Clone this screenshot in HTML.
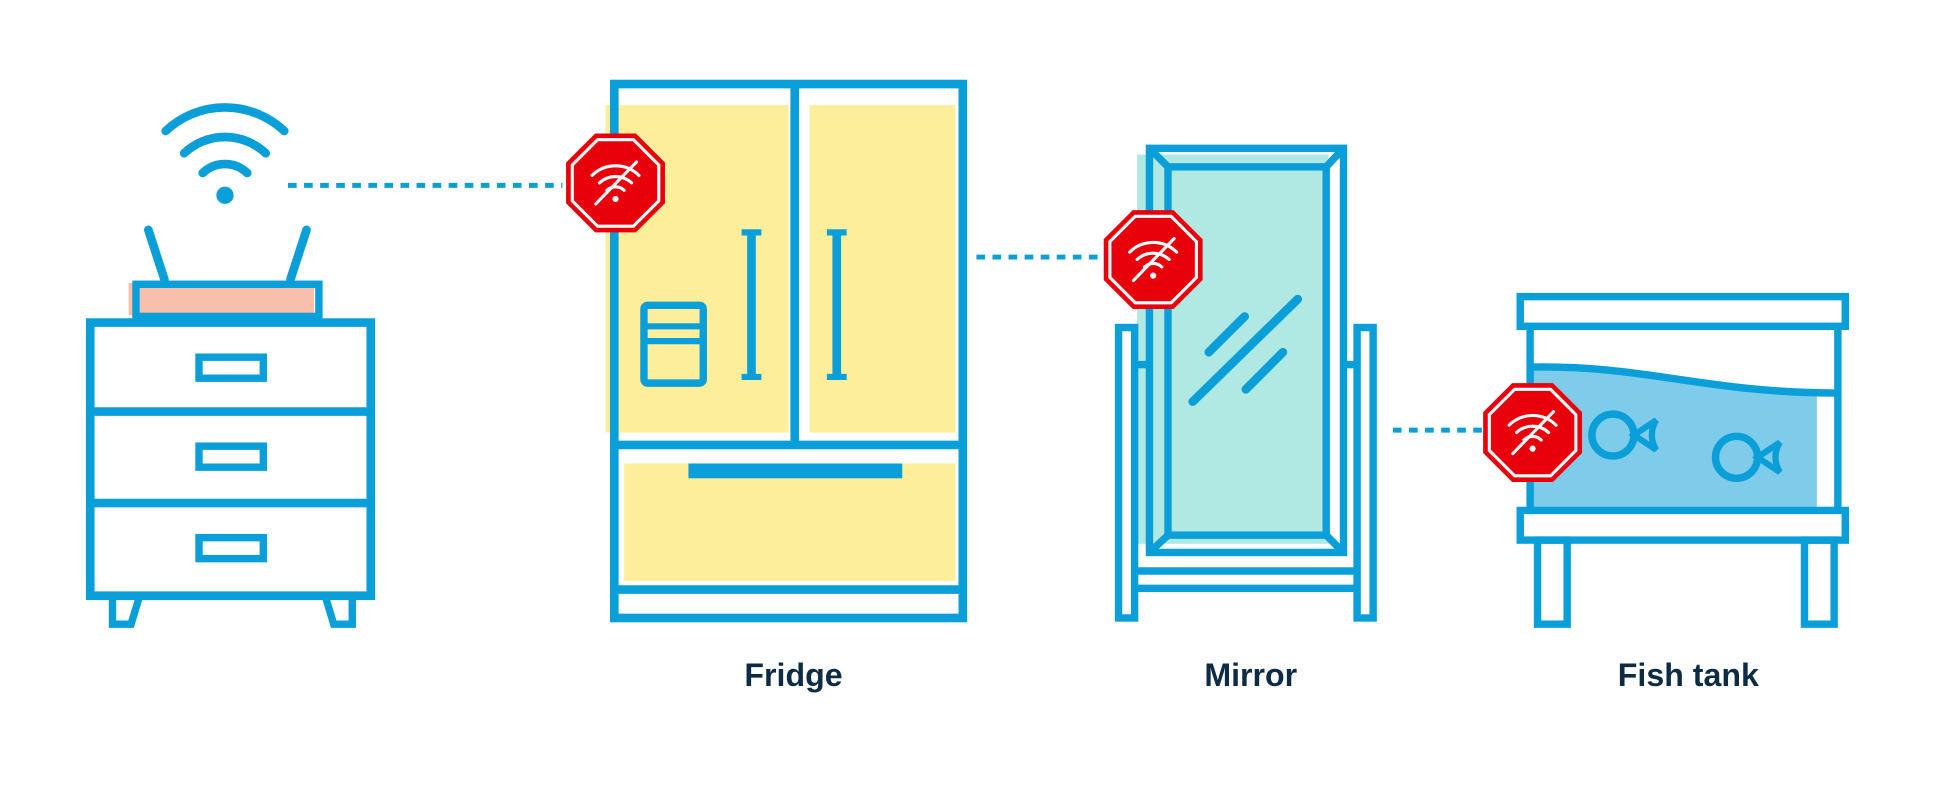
<!DOCTYPE html>
<html><head><meta charset="utf-8"><style>
html,body{margin:0;padding:0;background:#fff;}
svg{display:block}
text{font-family:"Liberation Sans",sans-serif;font-weight:bold;fill:#0d2b45;font-size:26px;text-anchor:middle}
</style></head><body>
<svg width="1938" height="791" viewBox="0 0 1568 640" xmlns="http://www.w3.org/2000/svg">
<defs>
<g id="stop">
<polygon points="-16.5,-40 16.5,-40 40,-16.5 40,16.5 16.5,40 -16.5,40 -40,16.5 -40,-16.5" fill="#e8000b"/>
<polygon points="-14.5,-35 14.5,-35 35,-14.5 35,14.5 14.5,35 -14.5,35 -35,14.5 -35,-14.5" fill="none" stroke="#fff" stroke-width="2.5"/>
<g fill="none" stroke="#fff" stroke-width="2.5" stroke-linecap="round">
<path d="M-19,-6 A27,27 0 0 1 19,-6"/>
<path d="M-13,0 A19,19 0 0 1 13,0"/>
<path d="M-7,6 A10,10 0 0 1 7,6"/>
<line x1="-16" y1="17" x2="17" y2="-17"/>
</g>
<circle cx="0" cy="13" r="2.5" fill="#fff"/>
</g>
</defs>
<g fill="none" stroke="#0a9fd8" stroke-width="7">
<!-- wifi -->
<path d="M134,106 A70,70 0 0 1 230,106" stroke-linecap="round"/>
<path d="M149,124 A48,48 0 0 1 215,124" stroke-linecap="round"/>
<path d="M164,140 A26,26 0 0 1 200,140" stroke-linecap="round"/>
</g>
<circle cx="182" cy="158" r="7" fill="#0a9fd8"/>
<g stroke="#0a9fd8" stroke-width="7" stroke-linecap="round">
<line x1="120" y1="186" x2="133" y2="226"/><line x1="248" y1="186" x2="235" y2="226"/>
</g>
<rect x="104" y="229" width="150" height="26" fill="#f9bfad"/>
<rect x="110" y="230" width="148" height="26" fill="none" stroke="#0a9fd8" stroke-width="6"/>
<!-- dresser -->
<g fill="none" stroke="#0a9fd8" stroke-width="7">
<rect x="73" y="261" width="227" height="221"/>
<line x1="73" y1="333" x2="300" y2="333"/><line x1="73" y1="407" x2="300" y2="407"/>
<rect x="161" y="289" width="52" height="17" stroke-width="6"/>
<rect x="161" y="361" width="52" height="17" stroke-width="6"/>
<rect x="161" y="435" width="52" height="17" stroke-width="6"/>
<polyline points="91,482 91,505 106,505 113,482" stroke-width="6"/>
<polyline points="285,482 285,505 270,505 263,482" stroke-width="6"/>
</g>
<line x1="233" y1="150" x2="455" y2="150" stroke="#0a9fd8" stroke-width="4" stroke-dasharray="7,6"/>
<!-- fridge -->
<rect x="490" y="85" width="148" height="265" fill="#fdee9b"/>
<rect x="655" y="85" width="118" height="265" fill="#fdee9b"/>
<rect x="505" y="375" width="268" height="95" fill="#fdee9b"/>
<g fill="none" stroke="#0a9fd8" stroke-width="7">
<rect x="497" y="68" width="282" height="432"/>
<line x1="643" y1="68" x2="643" y2="360"/>
<line x1="497" y1="360" x2="779" y2="360"/>
<line x1="497" y1="477" x2="779" y2="477"/>
<line x1="608" y1="188" x2="608" y2="305"/><line x1="677" y1="188" x2="677" y2="305"/>
<line x1="600" y1="188" x2="616" y2="188" stroke-width="5"/><line x1="600" y1="305" x2="616" y2="305" stroke-width="5"/>
<line x1="669" y1="188" x2="685" y2="188" stroke-width="5"/><line x1="669" y1="305" x2="685" y2="305" stroke-width="5"/>
<rect x="521" y="247" width="48" height="63" rx="3" stroke-width="6"/>
<line x1="521" y1="264" x2="569" y2="264" stroke-width="5"/><line x1="521" y1="276" x2="569" y2="276" stroke-width="5"/>
</g>
<rect x="557" y="375" width="173" height="12" fill="#0a9fd8"/>
<use href="#stop" x="498" y="148"/>
<line x1="790" y1="208" x2="893" y2="208" stroke="#0a9fd8" stroke-width="4" stroke-dasharray="7,6"/>
<!-- mirror -->
<rect x="920" y="125" width="155" height="315" fill="#b0e8e4"/>
<g fill="none" stroke="#0a9fd8" stroke-width="6">
<rect x="930" y="120" width="157" height="327"/>
<rect x="945" y="135" width="128" height="298"/>
<line x1="930" y1="120" x2="945" y2="135"/><line x1="1087" y1="120" x2="1073" y2="135"/>
<line x1="930" y1="447" x2="945" y2="433"/><line x1="1087" y1="447" x2="1073" y2="433"/>
<rect x="905" y="265" width="13" height="235"/>
<rect x="1098" y="265" width="13" height="235"/>
<line x1="918" y1="462" x2="1098" y2="462"/><line x1="918" y1="476" x2="1098" y2="476"/>
<line x1="918" y1="295" x2="930" y2="295"/><line x1="1087" y1="295" x2="1098" y2="295"/>
<g stroke-linecap="round" stroke-width="7">
<line x1="965" y1="325" x2="1050" y2="242"/>
<line x1="978" y1="285" x2="1007" y2="256"/>
<line x1="1008" y1="315" x2="1038" y2="285"/>
</g>
</g>
<use href="#stop" x="933" y="210"/>
<line x1="1127" y1="348" x2="1200" y2="348" stroke="#0a9fd8" stroke-width="4" stroke-dasharray="7,6"/>
<!-- fish tank -->
<path d="M1238,297 C1330,295 1380,318 1470,318 L1470,413 L1238,413 Z" fill="#7ecbea"/>
<g fill="none" stroke="#0a9fd8" stroke-width="6">
<rect x="1230" y="240" width="263" height="24"/>
<line x1="1238" y1="264" x2="1238" y2="413"/><line x1="1487" y1="264" x2="1487" y2="413"/>
<path d="M1238,297 C1330,295 1380,318 1487,318"/>
<rect x="1230" y="413" width="263" height="24"/>
<rect x="1244" y="437" width="24" height="68"/>
<rect x="1460" y="437" width="24" height="68"/>
<circle cx="1305" cy="352" r="17"/>
<path d="M1322,352 L1340,340 Q1333,352 1340,364 Z" stroke-width="5"/>
<circle cx="1405" cy="370" r="17"/>
<path d="M1422,370 L1440,358 Q1433,370 1440,382 Z" stroke-width="5"/>
</g>
<use href="#stop" x="1240" y="350"/>
<text x="642" y="555">Fridge</text>
<text x="1012" y="555">Mirror</text>
<text x="1366" y="555">Fish tank</text>
</svg>
</body></html>
